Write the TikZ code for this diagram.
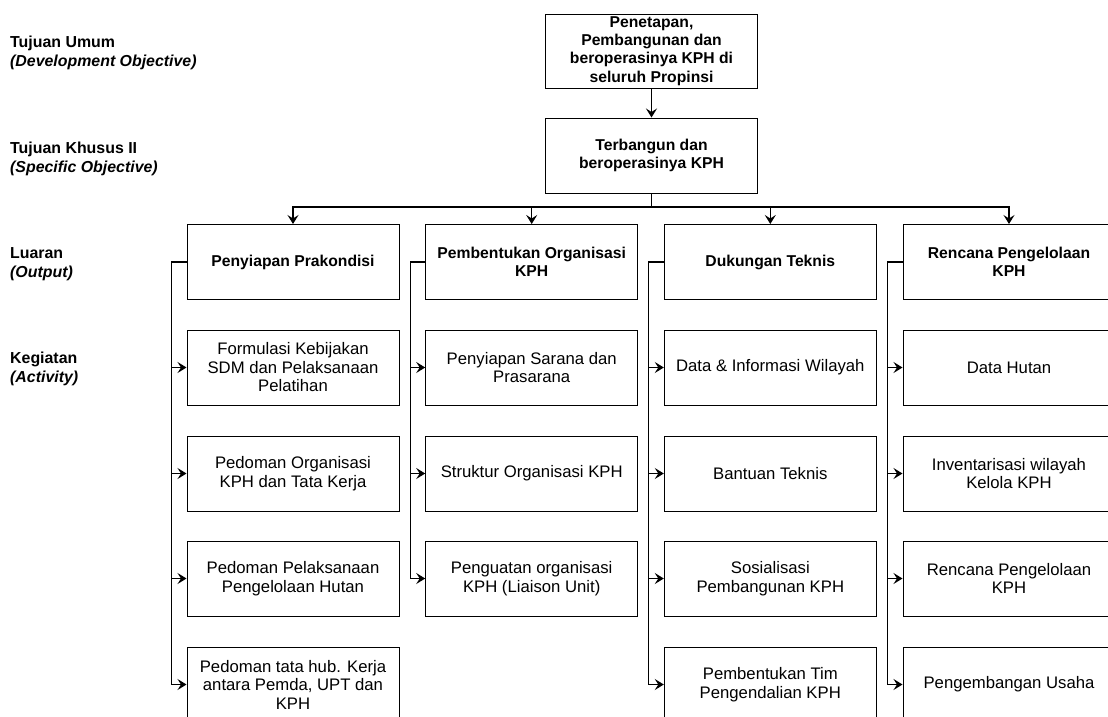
\documentclass[tikz,border=0pt]{standalone}
\usepackage{fontspec}
\setmainfont{Liberation Sans}
\usetikzlibrary{arrows.meta}
\begin{document}
\begin{tikzpicture}[x=1pt,y=-1pt,
  box/.style={draw, line width=1pt, minimum width=212pt, minimum height=75pt, inner sep=0pt, align=center, font=\fontsize{16.7}{18.5}\selectfont},
  head/.style={box, font=\bfseries\fontsize{15.7}{18.3}\selectfont},
  arr/.style={line width=1.3pt, -{Stealth[length=9pt,width=11pt,inset=3.5pt]}},
  conn/.style={line width=1.3pt},
  lab/.style={anchor=west, inner sep=0pt, align=left, font=\bfseries\fontsize{15.9}{19.5}\selectfont}]
\useasboundingbox (0,0) rectangle (1108,716);
\clip (0,0) rectangle (1108,716);
\fill[white] (0,0) rectangle (1108,716);

% left labels
\node[lab] (lu) at (10,53) {Tujuan Umum\\\itshape(Development Objective)};
\node[lab] (lk) at (10,159) {Tujuan Khusus II\\\itshape(Specific Objective)};
\node[lab] (lo) at (10,264) {Luaran\\\itshape(Output)};
\node[lab] (la) at (10,369) {Kegiatan\\\itshape(Activity)};

% top boxes
\node[head, minimum height=74pt] (goal) at (651.5,51) {Penetapan,\\Pembangunan dan\\beroperasinya KPH di\\seluruh Propinsi};
\node[head] (spec) at (651.5,155.5) {Terbangun dan\\beroperasinya KPH};
\draw[arr] (goal) -- (spec);

% outputs
\node[head] (o1) at (293,262) {Penyiapan Prakondisi};
\node[head] (o2) at (531.7,262) {Pembentukan Organisasi\\KPH};
\node[head] (o3) at (770.3,262) {Dukungan Teknis};
\node[head] (o4) at (1009,262) {Rencana Pengelolaan\\KPH};

\coordinate (bus) at (651.5,207);
\draw[conn] (spec.south) -- (bus);
\foreach \o in {o1,o2,o3,o4}{\draw[arr] (bus) -| (\o.north);}

% activities column 1
\node[box] (a11) at (293,367.5) {Formulasi Kebijakan\\SDM dan Pelaksanaan\\Pelatihan};
\node[box] (a12) at (293,473.5) {Pedoman Organisasi\\KPH dan Tata Kerja};
\node[box] (a13) at (293,578.5) {Pedoman Pelaksanaan\\Pengelolaan Hutan};
\node[box] (a14) at (293,684.5) {Pedoman tata hub. Kerja\\antara Pemda, UPT dan\\KPH};
% column 2
\node[box] (a21) at (531.7,367.5) {Penyiapan Sarana dan\\Prasarana};
\node[box] (a22) at (531.7,473.5) {Struktur Organisasi KPH};
\node[box] (a23) at (531.7,578.5) {Penguatan organisasi\\KPH (Liaison Unit)};
% column 3
\node[box] (a31) at (770.3,367.5) {Data \& Informasi Wilayah};
\node[box] (a32) at (770.3,473.5) {Bantuan Teknis};
\node[box] (a33) at (770.3,578.5) {Sosialisasi\\Pembangunan KPH};
\node[box] (a34) at (770.3,684.5) {Pembentukan Tim\\Pengendalian KPH};
% column 4
\node[box] (a41) at (1009,367.5) {Data Hutan};
\node[box] (a42) at (1009,473.5) {Inventarisasi wilayah\\Kelola KPH};
\node[box] (a43) at (1009,578.5) {Rencana Pengelolaan\\KPH};
\node[box] (a44) at (1009,684.5) {Pengembangan Usaha};

% brackets
\foreach \a in {a11,a12,a13,a14}{\draw[arr] (o1.west) -- ++(-15,0) |- (\a.west);}
\foreach \a in {a21,a22,a23}{\draw[arr] (o2.west) -- ++(-15,0) |- (\a.west);}
\foreach \a in {a31,a32,a33,a34}{\draw[arr] (o3.west) -- ++(-15,0) |- (\a.west);}
\foreach \a in {a41,a42,a43,a44}{\draw[arr] (o4.west) -- ++(-15,0) |- (\a.west);}
\end{tikzpicture}
\end{document}
